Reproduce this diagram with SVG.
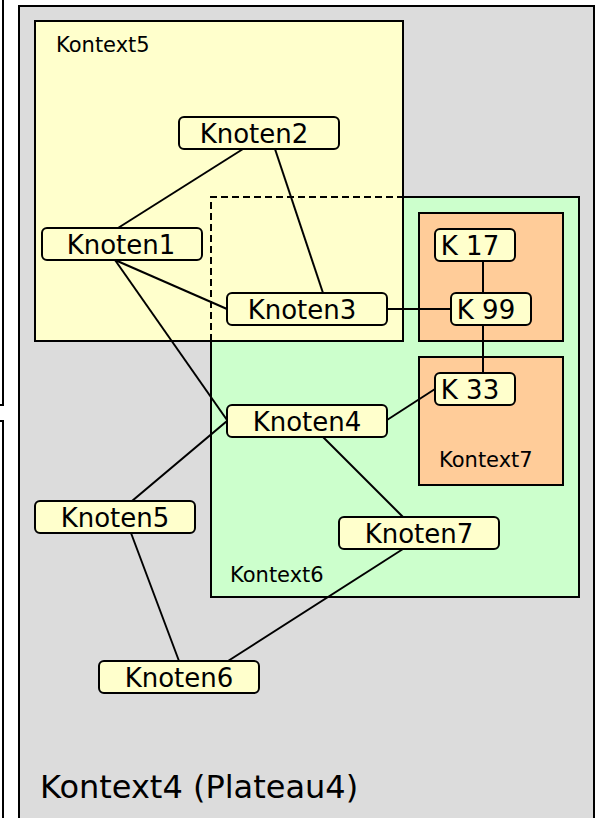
<svg xmlns="http://www.w3.org/2000/svg" width="600" height="818" viewBox="0 0 600 818">
<style>
.ctx{stroke:#000;stroke-width:2}
.plateau{fill:#dcdcdc}
.k5{fill:#ffffcc}
.k6{fill:#ccffcc}
.k7{fill:#ffcc99}
.node rect{fill:#ffffcc;stroke:#000;stroke-width:2}
.node text{font-family:"DejaVu Sans","Liberation Sans",sans-serif;font-size:26px;fill:#000;text-anchor:middle}
.lbl{font-family:"DejaVu Sans","Liberation Sans",sans-serif;font-size:21px;fill:#000}
.big{font-family:"DejaVu Sans","Liberation Sans",sans-serif;font-size:32px;fill:#000}
.edges line{stroke:#000;stroke-width:2}
.dash{fill:none;stroke:#000;stroke-width:2;stroke-dasharray:7,4}
.frame{fill:none;stroke:#000;stroke-width:2}
</style>
<rect width="600" height="818" fill="#fff"/>
<!-- partial neighbouring frames -->
<path class="frame" d="M-5,405 H3 V-5"/>
<path class="frame" d="M-5,421 H3 V830"/>
<g id="kontext4">
<rect class="ctx plateau" x="19" y="6" width="575" height="830"/>
<text class="big" x="40" y="798">Kontext4 (Plateau4)</text>
</g>
<g id="kontext6">
<rect class="ctx k6" x="211" y="197" width="368" height="400"/>
<text class="lbl" x="230" y="582">Kontext6</text>
</g>
<g id="kontext5">
<rect class="ctx k5" x="35" y="21" width="368" height="320"/>
<text class="lbl" x="56" y="52">Kontext5</text>
</g>
<path class="dash" d="M211,341 V197 H403"/>
<g id="kontext7">
<rect class="ctx k7" x="419" y="213" width="144" height="128"/>
<rect class="ctx k7" x="419" y="357" width="144" height="128"/>
<text class="lbl" x="439" y="467">Kontext7</text>
</g>
<g id="connectors" class="edges">
<line x1="118" y1="228" x2="243" y2="149"/>
<line x1="275" y1="149" x2="323" y2="293"/>
<line x1="115" y1="260" x2="227" y2="309"/>
<line x1="115" y1="260" x2="227" y2="420"/>
<line x1="132" y1="501" x2="227" y2="421"/>
<line x1="387" y1="420" x2="435" y2="389"/>
<line x1="323" y1="437" x2="403" y2="517"/>
<line x1="131" y1="533" x2="179" y2="661"/>
<line x1="228" y1="661" x2="403" y2="549"/>
<line x1="387" y1="309" x2="451" y2="309"/>
<line x1="483" y1="261" x2="483" y2="293"/>
<line x1="483" y1="325" x2="483" y2="373"/>
</g>
<g id="knoten1" class="node"><rect x="42" y="228" width="160" height="32" rx="5"/><text x="121" y="254">Knoten1</text></g>
<g id="knoten2" class="node"><rect x="179" y="117" width="160" height="32" rx="5"/><text x="254" y="143">Knoten2</text></g>
<g id="knoten3" class="node"><rect x="227" y="293" width="160" height="32" rx="5"/><text x="302" y="319">Knoten3</text></g>
<g id="knoten4" class="node"><rect x="227" y="405" width="160" height="32" rx="5"/><text x="307" y="431">Knoten4</text></g>
<g id="knoten5" class="node"><rect x="35" y="501" width="160" height="32" rx="5"/><text x="115" y="527">Knoten5</text></g>
<g id="knoten6" class="node"><rect x="99" y="661" width="160" height="32" rx="5"/><text x="179" y="687">Knoten6</text></g>
<g id="knoten7" class="node"><rect x="339" y="517" width="160" height="32" rx="5"/><text x="419" y="543">Knoten7</text></g>
<g id="k17" class="node"><rect x="435" y="229" width="80" height="32" rx="5"/><text x="470" y="255">K 17</text></g>
<g id="k99" class="node"><rect x="451" y="293" width="80" height="32" rx="5"/><text x="486" y="319">K 99</text></g>
<g id="k33" class="node"><rect x="435" y="373" width="80" height="32" rx="5"/><text x="470" y="399">K 33</text></g>
</svg>
